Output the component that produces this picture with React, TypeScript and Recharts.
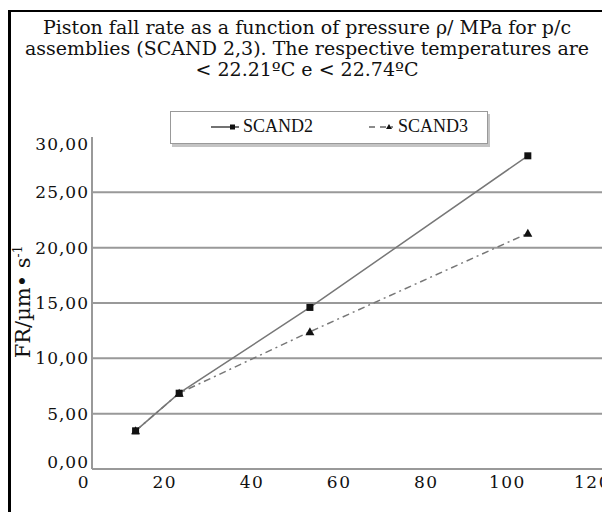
import React from "react";
import { CartesianGrid, Legend, Line, LineChart, XAxis, YAxis } from "recharts";

const PRESSURE = [10, 20, 50, 100];
const SCAND2 = [3.45, 6.85, 14.6, 28.3];
const SCAND3 = [3.45, 6.85, 12.4, 21.3];
const X_TICKS = [0, 20, 40, 60, 80, 100, 120];
const Y_TICKS = [0, 5, 10, 15, 20, 25, 30];
const GRID_VALUES = [5, 10, 15, 20, 25];
const TITLE_LINES = [
  "Piston fall rate as a function of pressure \u03c1/ MPa for p/c",
  "assemblies (SCAND 2,3). The respective temperatures are",
  "< 22.21\u00baC e < 22.74\u00baC",
];
const SERIES = [
  { key: "scand2", name: "SCAND2", values: SCAND2 },
  { key: "scand3", name: "SCAND3", values: SCAND3 },
];

const data = PRESSURE.map((p, i) => ({ p, scand2: SCAND2[i], scand3: SCAND3[i] }));

const FONT = "DejaVu Serif";
const LEGEND_FONT = "Liberation Serif";

const fmtY = (v: number) => v.toFixed(2).replace(".", ",");

function YTick(props: any) {
  const { x, y, payload, index } = props;
  // end labels sit a little inside the axis range, as in the original
  const nudge = index === 0 ? -7 : index === Y_TICKS.length - 1 ? 7 : 0;
  return (
    <text x={x} y={y + nudge} dy="0.35em" textAnchor="end" fontFamily={FONT} fontSize={17} letterSpacing={1} fill="#111">
      {fmtY(payload.value)}
    </text>
  );
}

function XTick(props: any) {
  const { x, y, payload } = props;
  return (
    <text x={x - 2} y={y} dy="0.71em" textAnchor="end" fontFamily={FONT} fontSize={17} letterSpacing={1.5} fill="#111">
      {payload.value}
    </text>
  );
}

function SquareDot(props: any) {
  const { cx, cy, index } = props;
  return <rect key={`sq-${index}`} x={cx - 3.5} y={cy - 3.5} width={7} height={7} fill="#111" />;
}

function TriangleDot(props: any) {
  const { cx, cy, index } = props;
  return <path key={`tr-${index}`} d={`M${cx},${cy - 4.5} L${cx + 4.5},${cy + 3.5} L${cx - 4.5},${cy + 3.5} Z`} fill="#111" />;
}

function LegendBox() {
  return (
    <div
      style={{
        width: 316,
        height: 31,
        border: "1px solid #999",
        boxShadow: "2px 3px 0 #c4c4c4",
        background: "#fff",
        position: "relative",
        fontFamily: LEGEND_FONT,
        fontSize: 18,
        color: "#111",
      }}
    >
      <svg width={60} height={31} style={{ position: "absolute", left: 38, top: 0 }}>
        <line x1={2} y1={15} x2={30} y2={15} stroke="#444" strokeWidth={1.5} />
        <rect x={21} y={12.5} width={5} height={5} fill="#111" />
      </svg>
      <span style={{ position: "absolute", left: 72, top: 4 }}>{SERIES[0].name}</span>
      <svg width={40} height={31} style={{ position: "absolute", left: 196, top: 0 }}>
        <line x1={2} y1={15} x2={26} y2={15} stroke="#666" strokeWidth={1.5} strokeDasharray="6 5" />
        <path d="M22,12 L25,17 L19,17 Z" fill="#111" />
      </svg>
      <span style={{ position: "absolute", left: 227, top: 4 }}>{SERIES[1].name}</span>
    </div>
  );
}

function YLabel() {
  return (
    <text transform="translate(19,290) rotate(-90)" textAnchor="middle" fontFamily={FONT} fontSize={21} fill="#111">
      FR/{"\u00b5"}m{"\u2022"} s
      <tspan dy={-8} fontSize={12}>-1</tspan>
    </text>
  );
}

export default function App() {
  return (
    <div
      style={{
        position: "relative",
        marginTop: 2,
        width: 599,
        height: 502,
        overflow: "hidden",
        borderTop: "2px solid #000",
        borderLeft: "3px solid #000",
        background: "#fff",
      }}
    >
      <svg width={599} height={80} style={{ position: "absolute", left: 0, top: 0 }}>
        {TITLE_LINES.map((t, i) => (
          <text key={t} x={296} y={22 + i * 21} textAnchor="middle" fontFamily={FONT} fontSize={19} fill="#111">
            {t}
          </text>
        ))}
      </svg>
      <LineChart
        width={614}
        height={497}
        data={data}
        margin={{ top: 125, right: 10, bottom: 10, left: 0 }}
        style={{ position: "absolute", left: 0, top: 0 }}
      >
        <CartesianGrid horizontal vertical={false} horizontalValues={GRID_VALUES} stroke="#999" strokeWidth={2} />
        <XAxis
          dataKey="p"
          type="number"
          domain={[0, 120]}
          ticks={X_TICKS}
          height={30}
          tickSize={0}
          tickMargin={7}
          tickLine={false}
          axisLine={{ stroke: "#999", strokeWidth: 2 }}
          tick={<XTick />}
        />
        <YAxis
          type="number"
          domain={[0, 30]}
          ticks={Y_TICKS}
          width={81}
          tickSize={1}
          tickMargin={2}
          tickLine={false}
          axisLine={{ stroke: "#999", strokeWidth: 2 }}
          tick={<YTick />}
          label={{ content: <YLabel /> }}
        />
        <Legend
          content={<LegendBox />}
          layout="horizontal"
          verticalAlign="middle"
          wrapperStyle={{ position: "absolute", left: 159, top: 99, width: 318, height: 33 }}
        />
        <Line
          dataKey="scand3"
          name="SCAND3"
          stroke="#777"
          strokeWidth={1.5}
          strokeDasharray="7 4 2 4"
          dot={<TriangleDot />}
          isAnimationActive={false}
        />
        <Line
          dataKey="scand2"
          name="SCAND2"
          stroke="#777"
          strokeWidth={1.5}
          dot={<SquareDot />}
          isAnimationActive={false}
        />
      </LineChart>
    </div>
  );
}
